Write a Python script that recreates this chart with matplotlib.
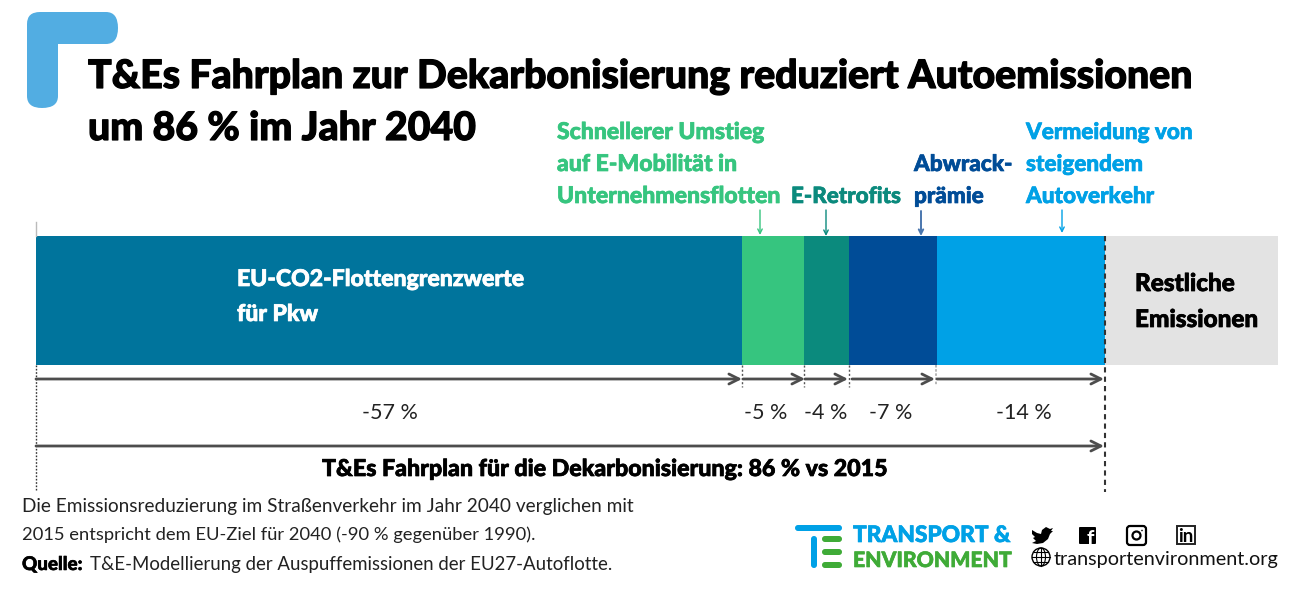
import matplotlib
matplotlib.use('Agg')
import matplotlib.pyplot as plt
import matplotlib.patheffects as pe
from matplotlib.patches import PathPatch, Circle, FancyBboxPatch, Ellipse, Polygon
from matplotlib.path import Path
import numpy as np

plt.rcParams['font.family'] = ['Lato', 'DejaVu Sans']

segment_names = ['EU-CO2-Flottengrenzwerte', 'Unternehmensflotten', 'E-Retrofits',
                 'Abwrackprämie', 'Autoverkehr', 'Restliche Emissionen']
segment_values = [56.85, 5.0, 3.6, 7.1, 13.55, 13.9]
segment_colors = ['#00749C', '#36C57F', '#0B8A7D', '#004C97', '#00A1E6', '#E3E3E3']
reduction_labels = ['-57 %', '-5 %', '-4 %', '-7 %', '-14 %']
reduction_label_x = [390, 766, 826, 891, 1024]
note_lines = ['Die Emissionsreduzierung im Straßenverkehr im Jahr 2040 verglichen mit',
              '2015 entspricht dem EU-Ziel für 2040 (-90 % gegenüber 1990).']

BAR_LEFT, BAR_RIGHT = 36, 1278
ARROW_GREY = '#4D4D4D'

fig = plt.figure(figsize=(13, 5.96), dpi=100)

bar_ax = fig.add_axes([BAR_LEFT / 1300, (596 - 365) / 596, (BAR_RIGHT - BAR_LEFT) / 1300, 129 / 596])
left = 0
for v, c in zip(segment_values, segment_colors):
    bar_ax.barh(0, v, left=left, height=1, color=c)
    left += v
bar_ax.set_xlim(0, sum(segment_values))
bar_ax.set_ylim(-0.5, 0.5)
bar_ax.axis('off')

# overlay in pixel coordinates for the text and decoration
ax = fig.add_axes([0, 0, 1, 1])
ax.set_xlim(0, 1300)
ax.set_ylim(596, 0)
ax.axis('off')
ax.patch.set_alpha(0)

edges = np.cumsum([0] + segment_values[:5])
edges_px = BAR_LEFT + edges / sum(segment_values) * (BAR_RIGHT - BAR_LEFT)


def txt(x, y, s, px, color='black', weight='normal', ha='left'):
    t = ax.text(x, y, s, fontsize=px * 0.72, color=color, fontweight=weight, ha=ha, va='baseline')
    if weight == 'black':
        # Lato black still looks lighter than the original face
        t.set_path_effects([pe.withStroke(linewidth=px * 0.022, foreground=color)])
    return t


def arrow(x0, y0, x1, y1, color=ARROW_GREY, lw=2, size=18):
    ax.annotate('', xy=(x1, y1), xytext=(x0, y0),
                arrowprops=dict(arrowstyle='->', color=color, lw=lw, mutation_scale=size,
                                shrinkA=0, shrinkB=0))


# corner mark
corner = [(Path.MOVETO, (27, 24)), (Path.CURVE3, (27, 12)), (Path.CURVE3, (40, 12)),
          (Path.LINETO, (106, 12)), (Path.CURVE3, (118, 12)), (Path.CURVE3, (118, 28)),
          (Path.CURVE3, (118, 44)), (Path.CURVE3, (106, 44)),
          (Path.LINETO, (58, 44)), (Path.LINETO, (58, 96)),
          (Path.CURVE3, (58, 108)), (Path.CURVE3, (42, 108)),
          (Path.CURVE3, (27, 108)), (Path.CURVE3, (27, 96)),
          (Path.CLOSEPOLY, (27, 24))]
codes, verts = zip(*corner)
ax.add_patch(PathPatch(Path(verts, codes), fc='#52ADE2', ec='none'))

# title
txt(88, 88, 'T&Es Fahrplan zur Dekarbonisierung reduziert Autoemissionen', 39.2, weight='black')
txt(88, 140, 'um 86 % im Jahr 2040', 39.2, weight='black')

# labels above the bar
for y, s in zip([139, 171, 203], ['Schnellerer Umstieg', 'auf E-Mobilität in', 'Unternehmensflotten']):
    txt(557, y, s, 23, color=segment_colors[1], weight='black')
txt(791, 203, 'E-Retrofits', 22.4, color=segment_colors[2], weight='black')
for y, s in zip([171, 203], ['Abwrack-', 'prämie']):
    txt(914, y, s, 22.5, color=segment_colors[3], weight='black')
for y, s in zip([139, 171, 203], ['Vermeidung von', 'steigendem', 'Autoverkehr']):
    txt(1026, y, s, 22.5, color=segment_colors[4], weight='black')

arrow(760, 210, 760, 235, color=segment_colors[1], lw=1, size=8)
arrow(826, 210, 826, 236, color=segment_colors[2], lw=1, size=8)
arrow(921, 211, 921, 236, color='#4A76AE', lw=1.4, size=8)
arrow(1062, 210, 1062, 233, color=segment_colors[4], lw=1, size=8)

# labels inside the bar
txt(237, 286, 'EU-CO2-Flottengrenzwerte', 23, color='white', weight='black')
txt(237, 321, 'für Pkw', 23, color='white', weight='black')
txt(1135, 291, 'Restliche', 24.3, weight='black')
txt(1135, 327, 'Emissionen', 24.3, weight='black')

# reference lines
ax.plot([36, 36], [222, 236], color='#BBBBBB', lw=1)
ax.plot([36, 36], [365, 490], color='#333333', lw=1, ls=(0, (1.2, 1.2)))
for x in edges_px[1:4]:
    ax.plot([x, x], [365, 387], color='#555555', lw=1, ls=(0, (1.5, 1.5)))
ax.plot([936, 936], [365, 385], color='#AAAAAA', lw=1.2, ls=(0, (1.5, 1)))
ax.plot([1105, 1105], [236, 492], color='#333333', lw=1.5, ls=(0, (2.5, 2)))

# reduction arrows
starts = [36, 743, 805, 852, 937]
ends = [742, 805, 848, 935, 1104]
for x0, x1 in zip(starts, ends):
    arrow(x0, 379, x1, 379)
arrow(36, 446, 1104, 446)
for x, s in zip(reduction_label_x, reduction_labels):
    txt(x, 419, s, 21.5, color='#222222', ha='center')
txt(606, 476, 'T&Es Fahrplan für die Dekarbonisierung: 86 % vs 2015', 23.2, weight='black', ha='center')

# notes
txt(22, 512, note_lines[0], 19, color='#222222')
txt(22, 540, note_lines[1], 18.4, color='#222222')
txt(22, 570, 'Quelle:', 18.8, weight='black')
txt(90, 570, 'T&E-Modellierung der Auspuffemissionen der EU27-Autoflotte.', 18.6, color='#222222')

# T&E logo
BLUE, GREEN = '#00A1E6', '#3FAB37'


def pill(x0, y0, x1, y1, c):
    r = (y1 - y0) / 2 if (y1 - y0) < (x1 - x0) else (x1 - x0) / 2
    ax.add_patch(FancyBboxPatch((x0 + r, y0 + r), x1 - x0 - 2 * r, y1 - y0 - 2 * r,
                                boxstyle=f'round,pad={r}', fc=c, ec='none'))


pill(795, 525, 842, 531, BLUE)
pill(811, 536, 817, 568, BLUE)
pill(822, 536, 842, 542, GREEN)
pill(822, 549, 842, 555, GREEN)
pill(822, 562, 842, 568, GREEN)
txt(853, 542, 'TRANSPORT &', 22.7, color=BLUE, weight='black')
txt(853, 567, 'ENVIRONMENT', 21.2, color=GREEN, weight='black')

# social icons
bird = [(1032, 530), (1037, 533), (1041, 534), (1042, 530), (1046, 527), (1050, 529), (1053, 528),
        (1051, 531), (1053, 531), (1050, 534), (1048, 539), (1043, 543), (1037, 544), (1032, 543),
        (1036, 541), (1033, 538), (1035, 537), (1032, 534)]
ax.add_patch(Polygon(bird, closed=True, fc='black', ec='none'))

ax.add_patch(FancyBboxPatch((1080, 528), 15, 15, boxstyle='round,pad=1', fc='black', ec='none'))
ax.text(1090, 545, 'f', fontsize=15, color='white', fontweight='bold', ha='center', va='baseline')

ax.add_patch(FancyBboxPatch((1130, 529), 13, 13, boxstyle='round,pad=3', fc='none', ec='black', lw=1.6))
ax.add_patch(Circle((1136.5, 535.5), 4, fc='none', ec='black', lw=1.6))
ax.add_patch(Circle((1142, 530.5), 0.8, fc='black', ec='none'))

ax.add_patch(FancyBboxPatch((1177, 526), 18, 18, boxstyle='square,pad=0', fc='white', ec='#222222', lw=1.4))
ax.text(1186, 542, 'in', fontsize=13.5, color='black', fontweight='bold', ha='center', va='baseline')

# globe
ax.add_patch(Circle((1041, 557), 9, fc='none', ec='black', lw=1))
ax.add_patch(Ellipse((1041, 557), 9, 18, fc='none', ec='black', lw=0.8))
ax.plot([1041, 1041], [548, 566], color='black', lw=0.8)
ax.plot([1032, 1050], [557, 557], color='black', lw=0.8)
ax.plot([1034, 1048], [552, 552], color='black', lw=0.8)
ax.plot([1034, 1048], [562, 562], color='black', lw=0.8)
txt(1054, 565, 'transportenvironment.org', 19.9, color='#111111')

fig.savefig('out.png', dpi=100)
